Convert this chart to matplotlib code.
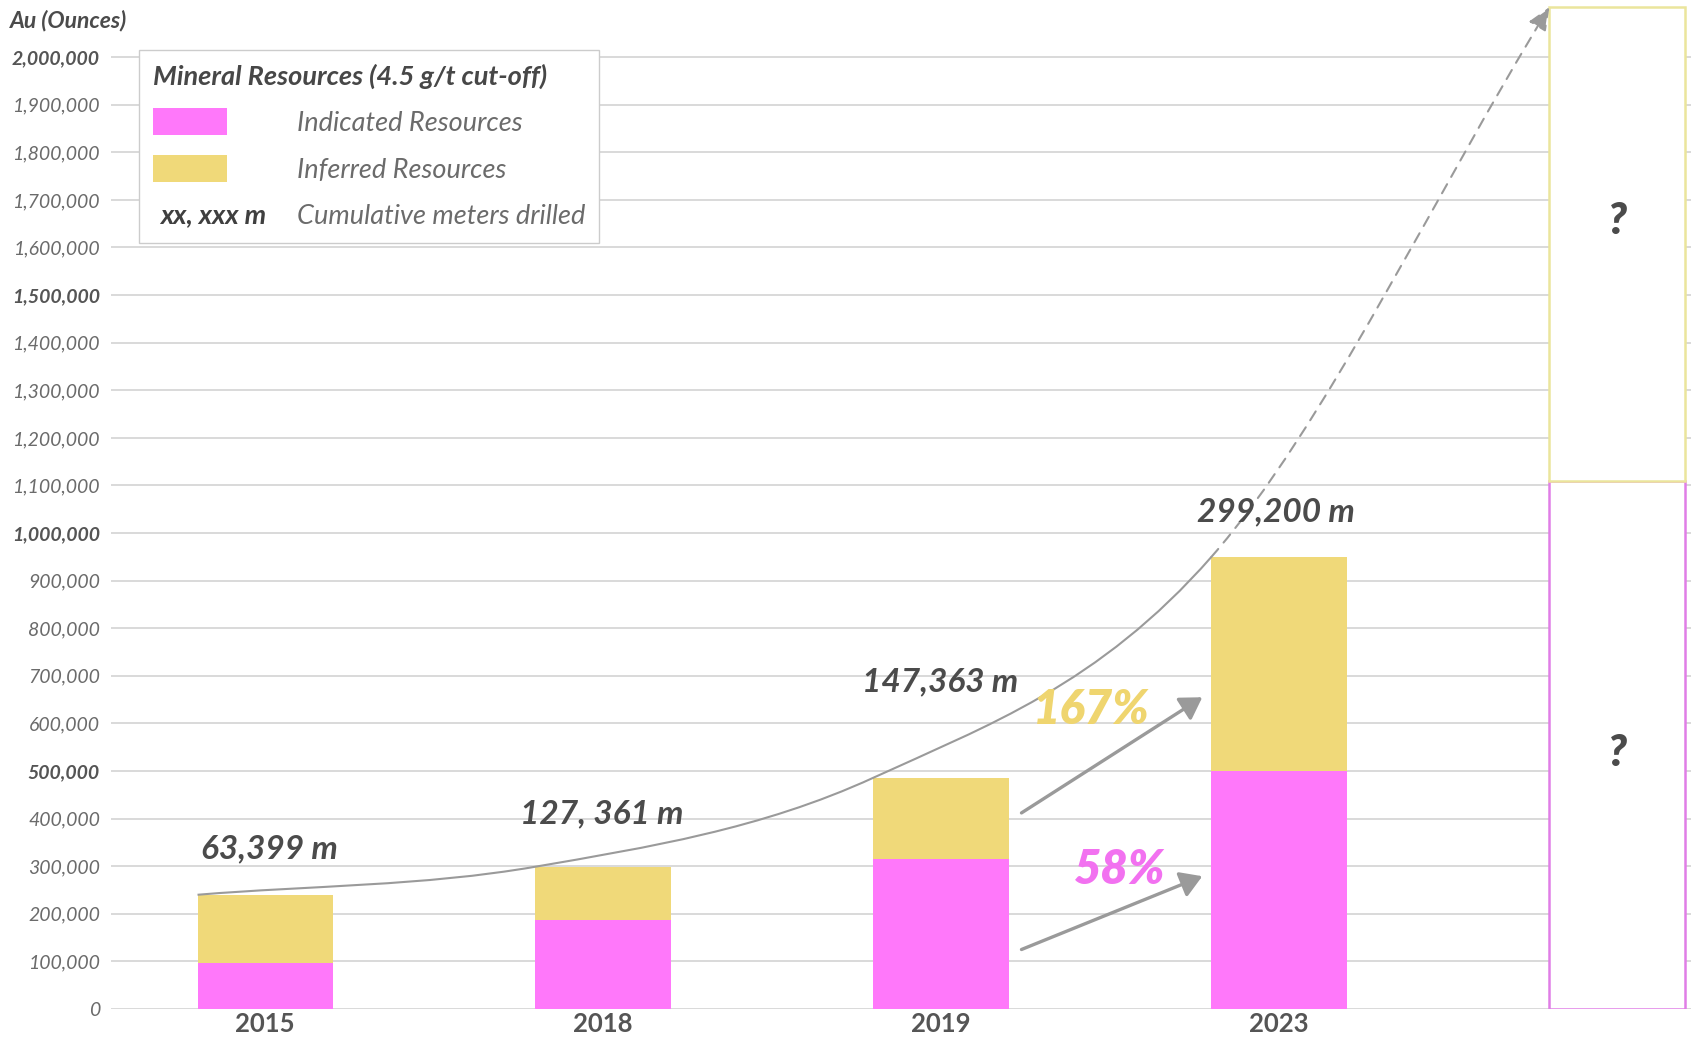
import numpy as np
import matplotlib
matplotlib.use('Agg')
import matplotlib.pyplot as plt
from matplotlib.path import Path
from matplotlib.patches import FancyArrowPatch, Patch, PathPatch
from matplotlib.legend_handler import HandlerBase
from matplotlib.text import Text

# ---------------- data ----------------
years = ['2015', '2018', '2019', '2023']
indicated = [96000, 186000, 316000, 500000]
inferred = [144000, 113000, 170000, 450000]
meters_labels = ['63,399 m', '127, 361 m', '147,363 m', '299,200 m']
future_indicated = 1110000
future_inferred = 995000
growth_labels = ['167%', '58%']
y_ticks = list(range(0, 2000001, 100000))

plt.rcParams['font.family'] = ['Lato', 'DejaVu Sans']

MAGENTA = '#ff78fa'
YELLOW = '#f0d979'
GRID = '#cfcfcf'
DARK = '#4b4b4b'
MID = '#6b6b6b'
CURVE = '#9a9a9a'

fig = plt.figure(figsize=(16.91, 10.37), dpi=100)
ax = fig.add_axes([111 / 1691, 28 / 1037, 1580 / 1691, 1009 / 1037])

x = np.arange(len(years))
totals = np.add(indicated, inferred)
bw = 0.4
ax.bar(x, indicated, width=bw, color=MAGENTA, zorder=2)
ax.bar(x, inferred, bottom=indicated, width=bw, color=YELLOW, zorder=2)

fx = len(years)
ax.bar(fx, future_indicated, width=bw, facecolor='white', edgecolor='#e07ee6', lw=1.8, zorder=3)
ax.bar(fx, future_inferred, bottom=future_indicated, width=bw, facecolor='white',
       edgecolor='#ebe59c', lw=1.8, zorder=3)

ax.set_xlim(-0.456, 4.219)
ax.set_ylim(0, 2120000)
for s in ax.spines.values():
    s.set_visible(False)

ax.set_yticks(y_ticks)
ax.set_yticklabels([f'{v:,}' for v in y_ticks])
ax.yaxis.grid(True, color=GRID, lw=1.1)
ax.set_axisbelow(True)
ax.tick_params(axis='y', length=0, pad=8, labelsize=14, labelcolor=MID)
for v, lab in zip(y_ticks, ax.get_yticklabels()):
    lab.set_fontstyle('italic')
    if v > 0 and v % 500000 == 0:
        lab.set_fontweight('bold')
        lab.set_color('#555555')

ax.set_xticks(x)
ax.set_xticklabels(years)
ax.tick_params(axis='x', length=0, pad=2, labelsize=18.5, labelcolor='#555555')
for lab in ax.get_xticklabels():
    lab.set_fontweight('bold')

# ---------------- growth curve ----------------
pts = [(xi - bw / 2, t) for xi, t in zip(x, totals)]
pts.append((fx - bw / 2, future_indicated + future_inferred))
P = np.array(pts, dtype=float)
n = len(P)
T = np.zeros_like(P)
T[0] = P[1] - P[0]
T[-1] = P[-1] - P[-2]
for i in range(1, n - 1):
    T[i] = (P[i + 1] - P[i - 1]) / 2


def seg(i):
    return [P[i] + T[i] / 3, P[i + 1] - T[i + 1] / 3, P[i + 1]]


verts = [P[0]]
codes = [Path.MOVETO]
for i in range(n - 2):
    verts += seg(i)
    codes += [Path.CURVE4] * 3
ax.add_patch(PathPatch(Path(verts, codes), fill=False, ec=CURVE, lw=1.5, zorder=4))

dverts = [P[n - 2]] + seg(n - 2)
dcodes = [Path.MOVETO] + [Path.CURVE4] * 3
arr = FancyArrowPatch(path=Path(dverts, dcodes), arrowstyle='-|>,head_length=0.7,head_width=0.3',
                      mutation_scale=20, linestyle=(0, (5, 4)), color=CURVE, lw=1.5, zorder=4)
ax.add_patch(arr)

# ---------------- labels ----------------
meter_pos = [(0.013, 337000), (0.996, 410000), (1.996, 687000), (2.992, 1044000)]
for (mx, my), lab in zip(meter_pos, meters_labels):
    ax.text(mx, my, lab, ha='center', va='center', fontsize=24, fontweight='bold',
            fontstyle='italic', color=DARK, zorder=6)

ax.annotate('', xy=(2.773, 655000), xytext=(2.238, 412000),
            arrowprops=dict(arrowstyle='-|>,head_length=0.65,head_width=0.4', color=CURVE,
                            lw=2.4, mutation_scale=20, shrinkA=0, shrinkB=0), zorder=5)
ax.annotate('', xy=(2.773, 279000), xytext=(2.238, 125000),
            arrowprops=dict(arrowstyle='-|>,head_length=0.65,head_width=0.4', color=CURVE,
                            lw=2.4, mutation_scale=20, shrinkA=0, shrinkB=0), zorder=5)
ax.text(2.445, 628000, growth_labels[0], ha='center', va='center', fontsize=34,
        fontweight='heavy', fontstyle='italic', color='#efd56f', zorder=6)
ax.text(2.529, 292000, growth_labels[1], ha='center', va='center', fontsize=34,
        fontweight='heavy', fontstyle='italic', color='#f271f0', zorder=6)

ax.text(fx, 1655000, '?', ha='center', va='center', fontsize=31, fontweight='heavy',
        fontstyle='italic', color=DARK, zorder=6)
ax.text(fx, 538000, '?', ha='center', va='center', fontsize=31, fontweight='heavy',
        fontstyle='italic', color=DARK, zorder=6)

fig.text(10 / 1691, 1 - 21 / 1037, 'Au (Ounces)', ha='left', va='center', fontsize=16.5,
         fontweight='bold', fontstyle='italic', color=DARK)


# ---------------- legend ----------------
class TextHandle:
    pass


class HandlerTextHandle(HandlerBase):
    def create_artists(self, legend, orig_handle, xdescent, ydescent, width, height,
                       fontsize, trans):
        t = Text(-xdescent + 0.1 * width, -ydescent + height / 2, 'xx, xxx m',
                 ha='left', va='center', fontsize=fontsize, fontweight='bold',
                 fontstyle='italic', color='#3f3f3f', transform=trans)
        return [t]


handles = [Patch(facecolor=MAGENTA, edgecolor='none'),
           Patch(facecolor=YELLOW, edgecolor='none'),
           TextHandle()]
labels = ['Indicated Resources', 'Inferred Resources', 'Cumulative meters drilled']
leg = ax.legend(handles, labels, handler_map={TextHandle: HandlerTextHandle()},
                loc='upper left', bbox_to_anchor=(0.0177, 0.9504), borderaxespad=0,
                frameon=True, fancybox=False, edgecolor='#cccccc', framealpha=1,
                prop={'size': 19.5, 'style': 'italic'}, labelcolor=MID,
                title='Mineral Resources (4.5 g/t cut-off)',
                title_fontproperties={'size': 19.5, 'weight': 'bold', 'style': 'italic'},
                alignment='left', handlelength=2.75, handleheight=1.12, handletextpad=2.6,
                labelspacing=0.72, borderpad=0.5)
leg.get_title().set_color('#474747')
leg.get_frame().set_linewidth(1.0)
leg.set_zorder(7)

fig.savefig('out.png', dpi=100)
